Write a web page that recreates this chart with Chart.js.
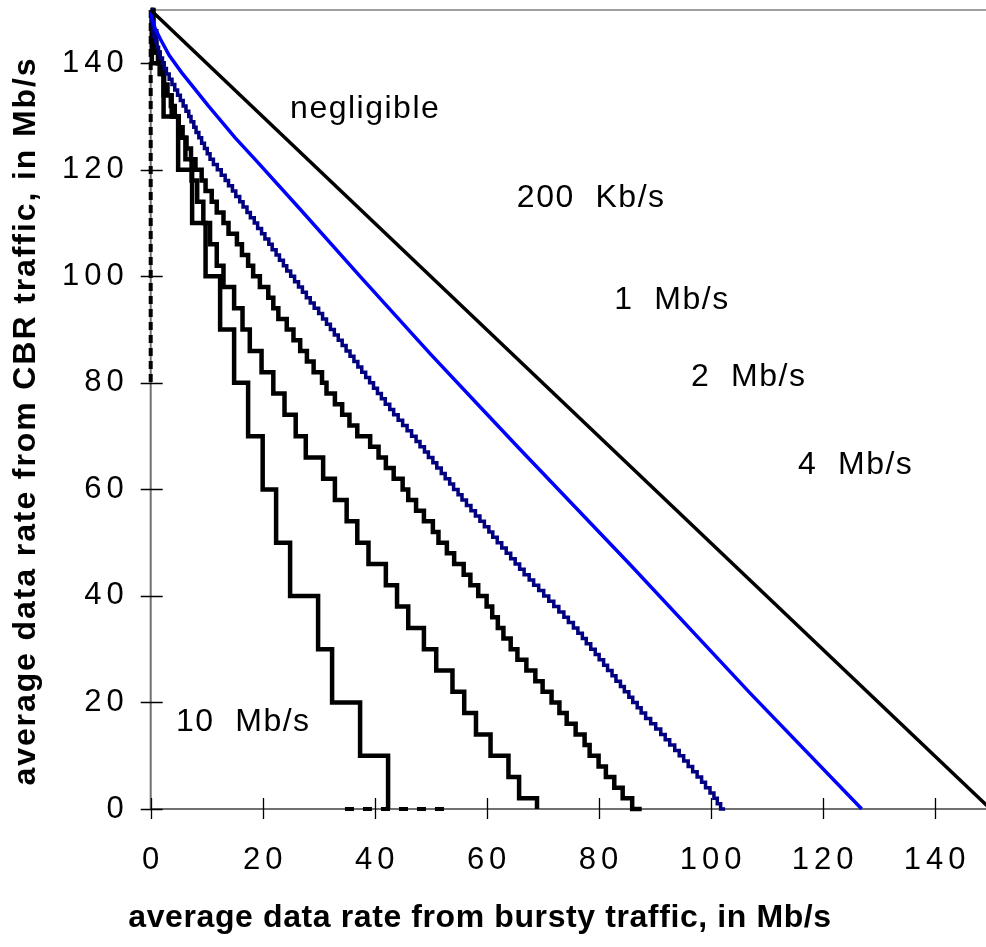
<!DOCTYPE html>
<html>
<head>
<meta charset="utf-8">
<script src="https://cdn.jsdelivr.net/npm/chart.js@4.4.1/dist/chart.umd.min.js"></script>
<style>
html,body{margin:0;padding:0;background:#ffffff;overflow:hidden;}
#wrap{position:relative;width:1000px;height:947px;}
</style>
</head>
<body>
<div id="wrap"><canvas id="c" width="1000" height="947"></canvas></div>
<script>
// ---------- tick labels ----------
const xTickValues = [0, 20, 40, 60, 80, 100, 120, 140];
const yTickValues = [0, 20, 40, 60, 80, 100, 120, 140];

// ---------- "negligible" boundary (straight) ----------
const diagX = [0, 150];
const diagY = [150, 0];

// ---------- 200 Kb/s boundary (fine steps, looks smooth) ----------
const blueX = [0, 0.3, 0.8, 1.7, 3.3, 5.5, 10.3, 15.1, 18.6, 26.7, 37.4, 49.9, 59.1, 66.0, 85.7, 107.1, 127.0];
const blueY = [150, 148.2, 146.5, 144.6, 141.5, 138.3, 132.0, 126.0, 122.0, 112.6, 100.0, 85.5, 75.2, 67.5, 45.8, 21.7, 0];

// ---------- 1 Mb/s boundary: one step per Mb/s of CBR, listed from the top step (149-150) down to (0-1) ----------
const navyX = [
  0.1, 0.2, 0.3, 0.4, 0.6, 0.9, 1.1, 1.4, 1.7, 2.1,
  2.4, 2.8, 3.3, 3.8, 4.3, 4.8, 5.3, 5.8, 6.3, 6.8,
  7.2, 7.7, 8.1, 8.6, 9.1, 9.6, 10.1, 10.6, 11.2, 11.9,
  12.6, 13.3, 13.9, 14.6, 15.2, 15.9, 16.5, 17.2, 17.8, 18.5,
  19.1, 19.8, 20.4, 21.1, 21.7, 22.4, 23.0, 23.7, 24.3, 25.0,
  25.7, 26.4, 27.1, 27.8, 28.5, 29.2, 30.0, 30.7, 31.4, 32.1,
  32.8, 33.5, 34.2, 34.9, 35.6, 36.3, 37.0, 37.7, 38.4, 39.1,
  39.8, 40.5, 41.2, 41.9, 42.7, 43.4, 44.2, 45.0, 45.8, 46.6,
  47.4, 48.1, 48.9, 49.6, 50.4, 51.1, 51.9, 52.6, 53.4, 54.1,
  54.9, 55.6, 56.4, 57.2, 58.0, 58.8, 59.6, 60.4, 61.1, 61.9,
  62.7, 63.5, 64.3, 65.1, 65.9, 66.7, 67.6, 68.4, 69.3, 70.2,
  71.1, 72.0, 72.9, 73.8, 74.6, 75.5, 76.3, 77.1, 77.8, 78.6,
  79.4, 80.1, 80.9, 81.6, 82.4, 83.1, 83.9, 84.6, 85.4, 86.1,
  86.9, 87.6, 88.4, 89.3, 90.2, 91.1, 91.9, 92.7, 93.6, 94.4,
  95.2, 96.0, 96.8, 97.6, 98.4, 99.1, 99.9, 100.6, 101.2, 101.8
];
const navyStep = 1;
const navyEndX = 102.6;

// ---------- 2 Mb/s boundary (x of each riser, y = lower CBR level of the step) ----------
const twoX = [0.2, 0.4, 0.6, 0.9, 1.3, 1.8, 2.4, 3.0, 3.6, 4.3,
  5.0, 5.7, 6.4, 7.2, 8.0, 9.1, 9.8, 10.9, 11.8, 13.0,
  13.9, 15.4, 16.3, 17.4, 18.3, 19.5, 21.0, 21.9, 22.8, 24.3,
  25.5, 26.7, 27.9, 29.1, 30.6, 31.4, 32.9, 34.2, 35.5, 36.9,
  39.2, 40.7, 42.0, 43.4, 45.0, 46.0, 47.4, 48.8, 50.4, 51.4,
  52.9, 54.2, 55.9, 57.1, 58.5, 60.0, 61.0, 62.0, 63.0, 64.3,
  65.5, 67.1, 68.7, 70.0, 71.6, 73.0, 74.3, 75.9, 77.5, 78.4,
  80.0, 81.3, 82.8, 84.3, 86.0, 87.7];
const twoY = [148, 146, 144, 142, 140, 138, 136, 134, 132, 130,
  128, 126, 124, 122, 120, 118, 116, 114, 112, 110,
  108, 106, 104, 102, 100, 98, 96, 94, 92, 90,
  88, 86, 84, 82, 80, 78, 76, 74, 72, 70,
  68, 66, 64, 62, 60, 58, 56, 54, 52, 50,
  48, 46, 44, 42, 40, 38, 36, 34, 32, 30,
  28, 26, 24, 22, 20, 18, 16, 14, 12, 10,
  8, 6, 4, 2, 0, 0];

// ---------- 4 Mb/s boundary ----------
const fourX = [0.5, 1.0, 1.6, 2.3, 3.75, 5.0, 6.2, 7.3, 8.3, 9.4,
  10.6, 11.8, 13.0, 14.9, 16.4, 17.7, 19.8, 21.9, 23.9, 25.9,
  27.7, 30.8, 32.9, 35.0, 36.9, 38.9, 42.0, 44.0, 46.0, 48.8,
  51.0, 53.9, 56.0, 58.1, 60.7, 63.9, 65.8, 69.0];
const fourY = [146, 142, 138, 134, 130, 126, 122, 118, 114, 110,
  106, 102, 98, 94, 90, 86, 82, 78, 74, 70,
  66, 62, 58, 54, 50, 46, 42, 38, 34, 30,
  26, 22, 18, 14, 10, 6, 2, 0];

// ---------- 10 Mb/s boundary ----------
const tenX = [0.2, 2.3, 4.9, 7.4, 9.8, 12.4, 14.9, 17.4, 20.0, 22.4, 24.9, 29.9, 32.4, 37.4, 42.4];
const tenY = [140, 130, 120, 110, 100, 90, 80, 70, 60, 50, 40, 30, 20, 10, 0];

// ---------- dashed pieces ----------
const dashVX = [0, 0];
const dashVY = [150, 80];
const dashHX = [34.7, 52.6];
const dashHY = [0, 0];

// ---------- text annotations (data coordinates of left end / baseline) ----------
const noteTexts = ["negligible", "200  Kb/s", "1  Mb/s", "2  Mb/s", "4  Mb/s", "10  Mb/s"];
const noteX = [24.9, 65.4, 82.8, 96.5, 115.6, 4.5];
const noteY = [129.7, 113.0, 93.9, 79.4, 62.9, 14.6];

const xTitle = "average data rate from bursty traffic, in Mb/s";
const yTitle = "average data rate from CBR traffic, in Mb/s";

// ---------- build datasets ----------
function zip(xs, ys) { return xs.map((x, i) => ({ x: x, y: ys[i] })); }
function stepped(xs, ys) { return [{ x: 0, y: 150 }].concat(zip(xs, ys)); }
const navyY = navyX.map((_, i) => 150 - navyStep * (i + 1));
const navyPts = stepped(navyX, navyY).concat([{ x: navyEndX, y: 0 }]);

const FONT = "'Liberation Sans', Arial, Helvetica, sans-serif";

const framePlugin = {
  id: 'frame',
  beforeDraw(chart) { chart.ctx.letterSpacing = '5px'; },
  beforeDatasetsDraw(chart) {
    const ctx = chart.ctx;
    ctx.letterSpacing = '0px';
    const a = chart.chartArea;
    const xs = chart.scales.x, ys = chart.scales.y;
    ctx.save();
    ctx.lineWidth = 2;
    ctx.strokeStyle = '#a0a0a0';
    ctx.beginPath();
    ctx.moveTo(a.left, a.top); ctx.lineTo(a.right, a.top); ctx.lineTo(a.right, a.bottom);
    ctx.stroke();
    ctx.strokeStyle = '#707070';
    ctx.beginPath();
    ctx.moveTo(a.left, a.top); ctx.lineTo(a.left, a.bottom); ctx.lineTo(a.right, a.bottom);
    ctx.stroke();
    ctx.strokeStyle = '#000000';
    ctx.lineWidth = 1.3;
    ctx.beginPath();
    xTickValues.forEach(v => {
      const p = Math.round(xs.getPixelForValue(v)) + 0.5;
      ctx.moveTo(p, a.bottom - 11); ctx.lineTo(p, a.bottom + 10);
    });
    yTickValues.forEach(v => {
      const p = Math.round(ys.getPixelForValue(v)) + 0.5;
      ctx.moveTo(a.left - 10, p); ctx.lineTo(a.left + 12, p);
    });
    ctx.stroke();
    ctx.restore();
  },
  afterDraw(chart) {
    const ctx = chart.ctx;
    const xs = chart.scales.x, ys = chart.scales.y;
    ctx.save();
    ctx.fillStyle = '#000000';
    ctx.letterSpacing = '1.5px';
    ctx.font = "32px " + FONT;
    ctx.textAlign = 'left';
    ctx.textBaseline = 'alphabetic';
    noteTexts.forEach((t, i) => {
      ctx.fillText(t, xs.getPixelForValue(noteX[i]), ys.getPixelForValue(noteY[i]));
    });
    ctx.font = "bold 32px " + FONT;
    ctx.letterSpacing = '0.6px';
    ctx.textAlign = 'center';
    ctx.fillText(xTitle, 480, 927);
    ctx.letterSpacing = '1.9px';
    ctx.translate(35, 421);
    ctx.rotate(-Math.PI / 2);
    ctx.fillText(yTitle, 0, 0);
    ctx.restore();
    ctx.letterSpacing = '0px';
  }
};

const lineBase = { fill: false, clip: false, pointRadius: 0, pointHoverRadius: 0, tension: 0, borderJoinStyle: 'miter', borderCapStyle: 'butt' };

new Chart(document.getElementById('c'), {
  type: 'line',
  data: {
    datasets: [
      Object.assign({}, lineBase, { label: 'negligible', data: zip(diagX, diagY), borderColor: '#000000', borderWidth: 3.5 }),
      Object.assign({}, lineBase, { label: '200 Kb/s', data: zip(blueX, blueY), borderColor: '#0000ff', borderWidth: 3.5 }),
      Object.assign({}, lineBase, { label: '1 Mb/s', data: navyPts, stepped: 'before', borderColor: '#000080', borderWidth: 3.5 }),
      Object.assign({}, lineBase, { label: '2 Mb/s', data: stepped(twoX, twoY), stepped: 'before', borderColor: '#000000', borderWidth: 4.5 }),
      Object.assign({}, lineBase, { label: '4 Mb/s', data: stepped(fourX, fourY), stepped: 'before', borderColor: '#000000', borderWidth: 4.5 }),
      Object.assign({}, lineBase, { label: '10 Mb/s', data: stepped(tenX, tenY), stepped: 'before', borderColor: '#000000', borderWidth: 4.5 }),
      Object.assign({}, lineBase, { label: 'dashV', data: zip(dashVX, dashVY), borderColor: '#000000', borderWidth: 4, borderDash: [8, 5] }),
      Object.assign({}, lineBase, { label: 'dashH', data: zip(dashHX, dashHY), borderColor: '#000000', borderWidth: 4, borderDash: [9, 9] })
    ]
  },
  options: {
    responsive: false,
    animation: false,
    devicePixelRatio: 1,
    layout: { padding: { top: 10, right: 9.5, bottom: 0, left: 0 } },
    plugins: { legend: { display: false }, tooltip: { enabled: false }, title: { display: false } },
    scales: {
      x: {
        type: 'linear', min: 0, max: 150,
        grid: { display: false, drawTicks: false },
        border: { display: false },
        ticks: { stepSize: 20, includeBounds: false, autoSkip: false, maxRotation: 0, padding: 33, labelOffset: 2.5, color: '#000000',
                 font: { family: FONT, size: 31 }, callback: v => String(v) },
        afterFit: s => { s.height = 138; s.paddingLeft = 0; s.paddingRight = 0; }
      },
      y: {
        type: 'linear', min: 0, max: 150,
        grid: { display: false, drawTicks: false },
        border: { display: false },
        ticks: { stepSize: 20, includeBounds: false, autoSkip: false, padding: 22, color: '#000000',
                 font: { family: FONT, size: 31 }, callback: v => String(v) },
        afterFit: s => { s.width = 150.7; s.paddingTop = 0; s.paddingBottom = 0; }
      }
    }
  },
  plugins: [framePlugin]
});
</script>
</body>
</html>
